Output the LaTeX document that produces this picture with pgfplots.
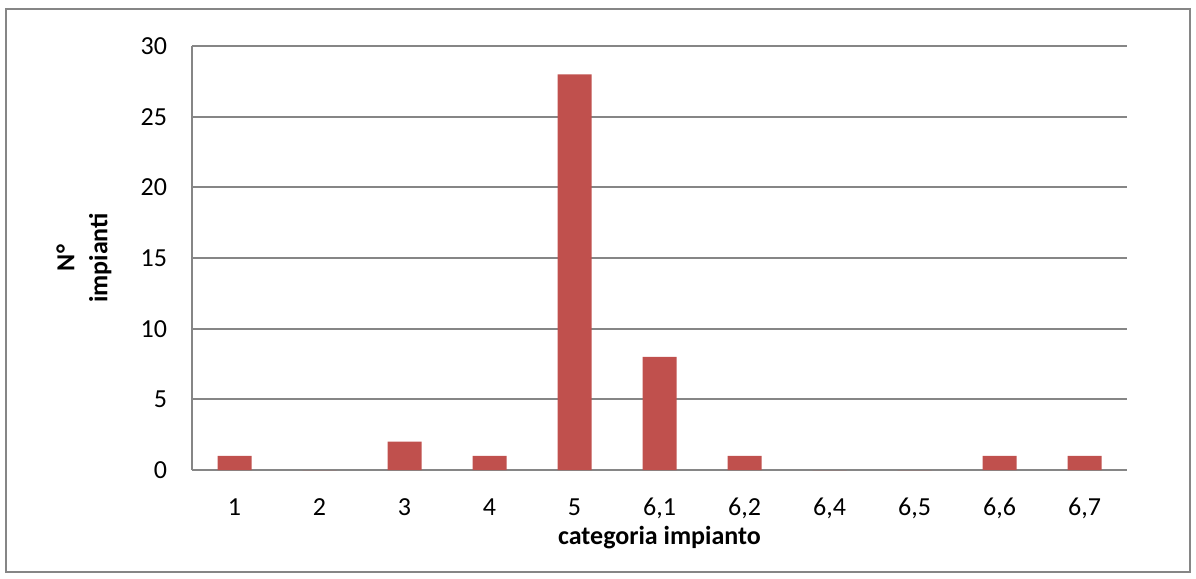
\documentclass[border=0pt]{standalone}
\usepackage{pgfplots}
\pgfplotsset{compat=1.18}
\usepackage{fontspec}
\setmainfont{Carlito}
\definecolor{barred}{HTML}{C0504D}
\definecolor{gridgray}{HTML}{868686}
\begin{document}
\begin{tikzpicture}
\useasboundingbox (0,0) rectangle (598pt,289.5pt);
\draw[gridgray,line width=1pt] (3pt,3.5pt) rectangle (595pt,285pt);
\begin{axis}[
  at={(96pt,54.5pt)}, anchor=south west,
  scale only axis, width=467.5pt, height=212pt,
  ybar, bar width=17pt,
  xmin=-0.5, xmax=10.5, ymin=0, ymax=30,
  xtick={0,...,10},
  xticklabels={1,2,3,4,5,{6,1},{6,2},{6,4},{6,5},{6,6},{6,7}},
  ytick={0,5,...,30},
  /pgf/number format/assume math mode=true,
  tick style={draw=none},
  axis x line*=bottom, axis y line*=left,
  axis line style={gridgray,line width=1pt,-},
  ymajorgrids, grid style={gridgray,line width=1pt},
  tick label style={font=\fontsize{13}{15}\selectfont},
  yticklabel style={xshift=-9pt},
  xticklabel style={anchor=base, yshift=-18.5pt},
  xlabel={\textbf{categoria impianto}},
  xlabel style={font=\fontsize{13}{15}\selectfont, at={(axis description cs:0.5,-0.16)}, anchor=center},
  ylabel={\textbf{N°}\\\textbf{impianti}},
  ylabel style={font=\fontsize{13}{16.5}\selectfont, align=center, at={(axis description cs:-0.1155,0.5)}, anchor=center},
]
\addplot[fill=barred, draw=none] coordinates {
(0,1) (1,0) (2,2) (3,1) (4,28) (5,8) (6,1) (7,0) (8,0) (9,1) (10,1)};
\end{axis}
\end{tikzpicture}
\end{document}
